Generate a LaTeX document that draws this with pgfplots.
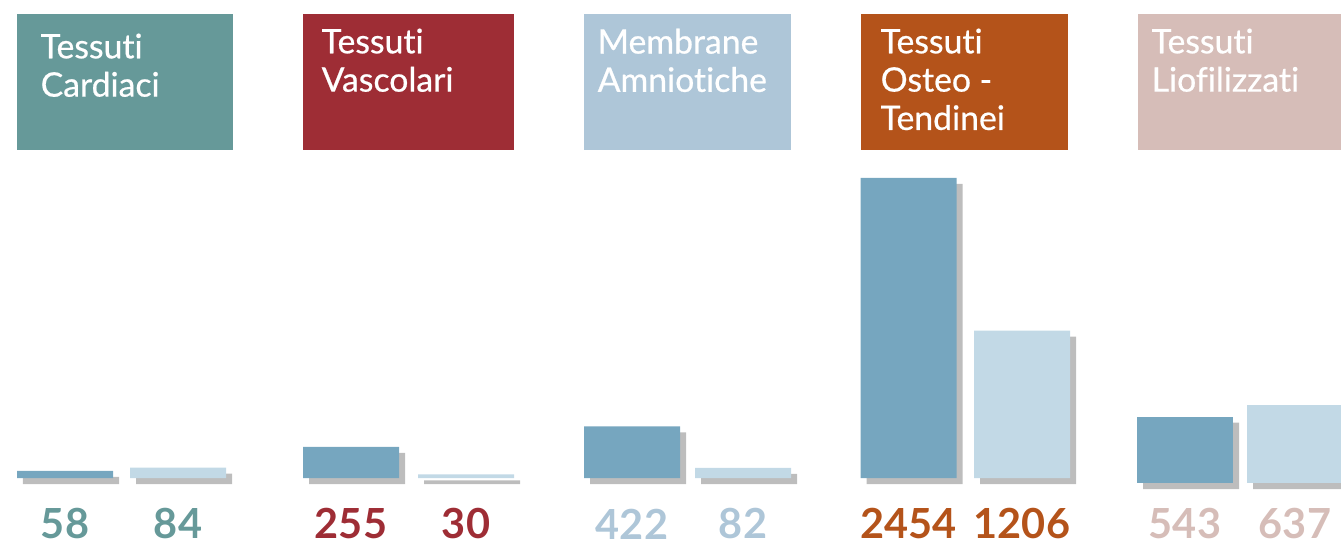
\documentclass[border=0pt]{standalone}
\usepackage{fontspec}
\setmainfont{Lato}[Ligatures=NoCommon]
\newfontfamily\hfont{Lato}[Ligatures=NoCommon, FakeBold=0.6]
\usepackage{pgfplots}
\pgfplotsset{compat=1.18}
\definecolor{cTeal}{HTML}{669999}
\definecolor{cRed}{HTML}{9E2D35}
\definecolor{cSky}{HTML}{AEC6D8}
\definecolor{cOrange}{HTML}{B4531A}
\definecolor{cPink}{HTML}{D6BDB8}
\definecolor{cDark}{HTML}{76A6BF}
\definecolor{cLight}{HTML}{C2D9E6}
\definecolor{cShadow}{HTML}{BDBDBD}
\begin{document}
\begin{tikzpicture}[x=1cm,y=1cm]
\path[use as bounding box] (0,0) rectangle (13.41,5.43);
% header boxes
\fill[cTeal]   (0.17,3.93) rectangle (2.33,5.29);
\fill[cRed]    (3.03,3.93) rectangle (5.14,5.29);
\fill[cSky]    (5.84,3.93) rectangle (7.91,5.29);
\fill[cOrange] (8.61,3.93) rectangle (10.68,5.29);
\fill[cPink]   (11.38,3.93) rectangle (13.50,5.29);
\begin{scope}[every node/.style={anchor=north west, inner sep=0pt, text=white, align=left, font=\hfont\fontsize{9.6}{10.9}\selectfont}]
\node at (0.40,5.10) {Tessuti\\Cardiaci};
\node at (3.21,5.15) {Tessuti\\Vascolari};
\node at (5.97,5.15) {Membrane\\Amniotiche};
\node at (8.80,5.15) {Tessuti\\Osteo -\\Tendinei};
\node at (11.51,5.15) {Tessuti\\Liofilizzati};
\end{scope}
\begin{axis}[at={(0,0.53cm)}, anchor=south west, scale only axis,
  width=13.41cm, height=4.90cm,
  xmin=0, xmax=1341, ymin=-98, ymax=3910,
  axis line style={draw=none}, major tick length=0pt, ytick=\empty,
  xtick={65,178,351,466,632,743,908.5,1022,1185,1295},
  xticklabels={{\color{cTeal}58},{\color{cTeal}84},{\color{cRed}255},{\color{cRed}30},{\color{cSky}422},{\color{cSky}82},{\color{cOrange}2454},{\color{cOrange}1206},{\color{cPink}543},{\color{cPink}637}},
  xticklabel style={font=\fontsize{11.8}{11.8}\selectfont\bfseries, anchor=center, inner sep=0pt, yshift=-0.34cm},
  clip=false]
% shadows
\addplot[ybar, bar width=96, bar shift=0pt, fill=cShadow, draw=none, xshift=0.06cm, yshift=-0.06cm]
  coordinates {(65,58)(178,84)(351,255)(466,30)(632,422)(743,82)(908.5,2454)(1022,1206)};
\addplot[ybar, bar width=96, bar shift=0pt, fill=cShadow, draw=none, xshift=0.06cm, yshift=-0.11cm]
  coordinates {(1185,543)(1295,637)};
% first series (dark)
\addplot[ybar, bar width=96, bar shift=0pt, fill=cDark, draw=none]
  coordinates {(65,58)(351,255)(632,422)(908.5,2454)};
\addplot[ybar, bar width=96, bar shift=0pt, fill=cDark, draw=none, yshift=-0.05cm]
  coordinates {(1185,543)};
% second series (light)
\addplot[ybar, bar width=96, bar shift=0pt, fill=cLight, draw=none]
  coordinates {(178,84)(466,30)(743,82)(1022,1206)};
\addplot[ybar, bar width=96, bar shift=0pt, fill=cLight, draw=none, yshift=-0.05cm]
  coordinates {(1295,637)};
\end{axis}
\end{tikzpicture}
\end{document}
